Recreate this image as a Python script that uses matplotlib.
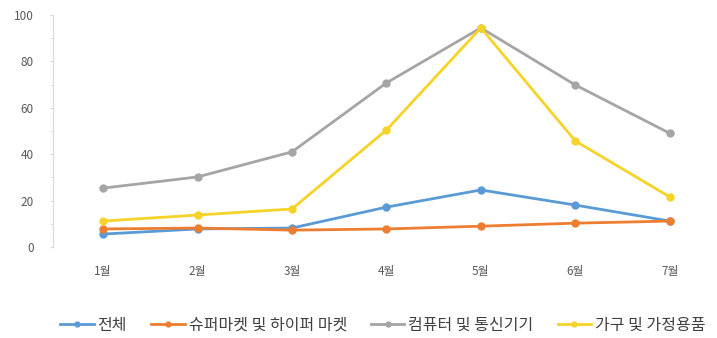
import matplotlib
matplotlib.use("Agg")
from matplotlib import pyplot as plt
from matplotlib.ticker import MultipleLocator

plt.rcParams['font.family'] = ['Noto Sans CJK KR', 'DejaVu Sans']

# Data
months = ["1월", "2월", "3월", "4월", "5월", "6월", "7월"]
total = [5.6, 7.8, 8.2, 17.2, 24.6, 18.1, 11.2]
supermarket = [7.8, 8.2, 7.3, 7.8, 9.0, 10.3, 11.2]
computer = [25.4, 30.2, 41.0, 70.7, 94.4, 69.8, 49.0]
furniture = [11.2, 13.8, 16.4, 50.4, 94.4, 45.7, 21.6]

series_names = ["전체", "슈퍼마켓 및 하이퍼 마켓", "컴퓨터 및 통신기기", "가구 및 가정용품"]
series_colors = ["#5B9BD5", "#ED7D31", "#A5A5A5", "#F5D328"]

fig = plt.figure(figsize=(7.17, 3.38), dpi=100)
ax = fig.add_axes([53 / 717, 0.269, 664 / 717, 0.687])

x = list(range(1, len(months) + 1))
for values, name, color in zip([total, supermarket, computer, furniture], series_names, series_colors):
    ax.plot(x, values, color=color, lw=2, marker='o', ms=5, label=name)

ax.set_xlim(0.47, 7.5)
ax.set_ylim(0, 100)
ax.set_xticks(x)
ax.set_xticklabels(months)
ax.yaxis.set_major_locator(MultipleLocator(20))
ax.yaxis.set_minor_locator(MultipleLocator(10))

for side in ['top', 'right', 'bottom']:
    ax.spines[side].set_visible(False)
ax.spines['left'].set_color('#D9D9D9')
ax.tick_params(axis='y', which='both', color='#D9D9D9', length=2.5, labelsize=8.5, labelcolor='#595959', pad=11.5)
ax.tick_params(axis='x', length=0, labelsize=8.5, labelcolor='#595959', pad=13)

# wide legend along the bottom edge
fig.legend(loc='center left', bbox_to_anchor=(60 / 717, 0.038), ncol=4, frameon=False,
           borderpad=0, borderaxespad=0, fontsize=11.5, labelcolor='#404040',
           handlelength=2.1, columnspacing=1.5, handletextpad=0.25, markerscale=0.7)

fig.savefig("out.png", dpi=100)
